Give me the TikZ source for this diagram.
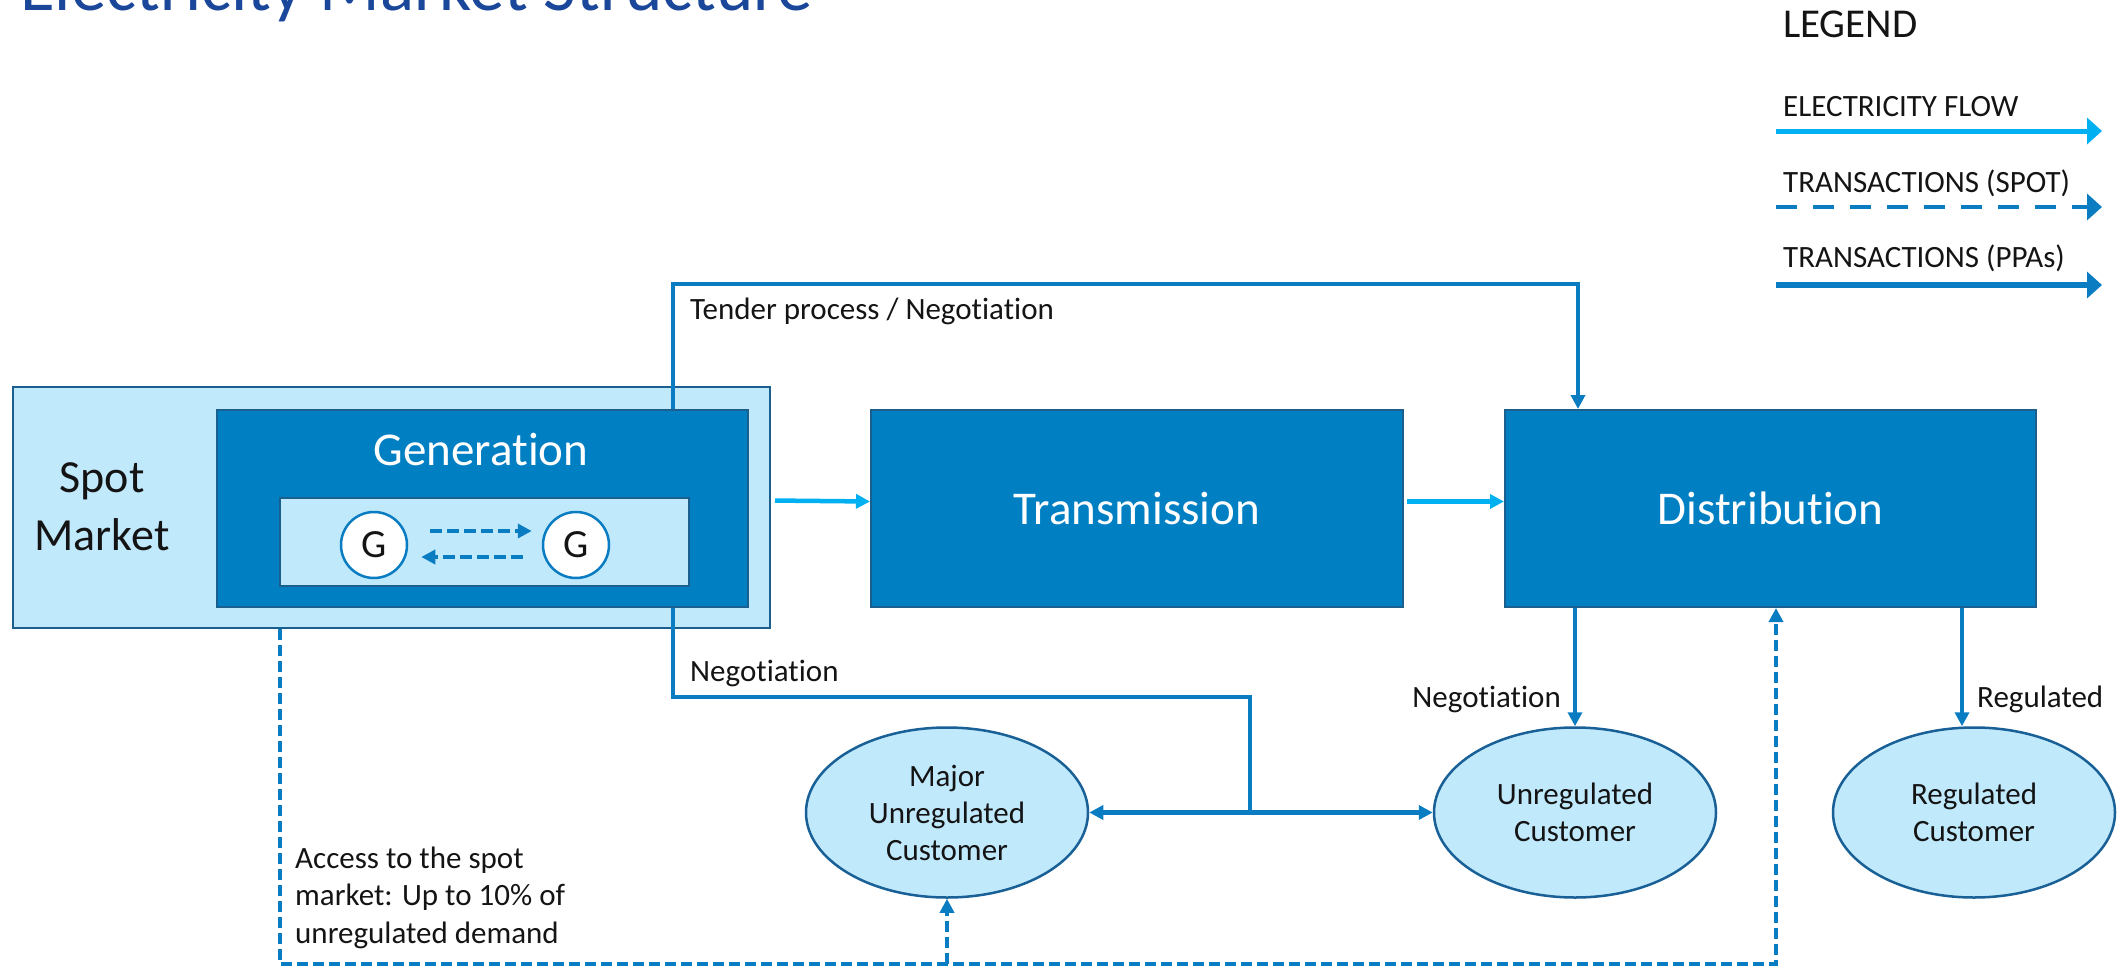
\documentclass[tikz,border=0pt]{standalone}
\usepackage{fontspec}
\setmainfont{Carlito}[RawFeature={-liga;-clig;-dlig;-calt}]
\usetikzlibrary{arrows.meta,shapes.geometric}

\definecolor{boxblue}{RGB}{0,127,195}
\definecolor{boxline}{RGB}{27,95,142}
\definecolor{lightblue}{RGB}{193,233,252}
\definecolor{ppablue}{RGB}{10,125,194}
\definecolor{elecblue}{RGB}{0,176,240}
\definecolor{custline}{RGB}{24,96,150}
\definecolor{titleblue}{RGB}{26,71,154}
\definecolor{textblack}{RGB}{20,20,20}

\tikzset{
  box/.style={rectangle,draw=boxline,fill=boxblue,line width=2pt,text=white,
    font=\fontsize{47}{56}\selectfont,inner sep=0pt},
  lightbox/.style={rectangle,draw=boxline,fill=lightblue,line width=2pt,inner sep=0pt},
  cust/.style={ellipse,draw=custline,fill=lightblue,line width=2.5pt,
    minimum width=282pt,minimum height=170pt,align=center,inner sep=0pt,
    text=textblack,font=\fontsize{31}{37}\selectfont},
  gnode/.style={circle,draw=ppablue,fill=white,line width=2.5pt,minimum size=66pt,
    inner sep=0pt,text=textblack,font=\fontsize{40}{48}\selectfont},
  lbl/.style={inner sep=0pt,text=textblack,font=\fontsize{31}{37.5}\selectfont},
  bigtxt/.style={inner sep=0pt,text=textblack,font=\fontsize{41}{58}\selectfont},
  spottxt/.style={inner sep=0pt,text=textblack,font=\fontsize{46}{58}\selectfont},
  gentxt/.style={inner sep=0pt,text=white,font=\fontsize{47}{56}\selectfont},
  title/.style={inner sep=0pt,text=titleblue,font=\fontsize{71}{84}\selectfont},
  elec/.style={draw=elecblue,line width=4.5pt},
  ppa/.style={draw=ppablue,line width=4.5pt},
  spotflow/.style={draw=ppablue,line width=4pt,dash pattern=on 11pt off 5pt},
  spotg/.style={draw=ppablue,line width=4.5pt,dash pattern=on 12pt off 5pt},
}

\begin{document}
\begin{tikzpicture}[x=1pt,y=-1pt,>={Triangle[length=14pt,width=14pt]}]
\useasboundingbox (0,0) rectangle (2118,966);
\coordinate (tenderL) at (673,284);
\coordinate (tenderR) at (1578,284);
\coordinate (negL) at (673,697);
\coordinate (negR) at (1250,697);
\coordinate (accL) at (280,964);
\coordinate (accR) at (1776,964);

% The title and legend
\node[title,anchor=base west] (title) at (20,11) {Electricity Market Structure};
\node[bigtxt,anchor=base west] (legend) at (1783,38) {LEGEND};
\node[lbl,anchor=base west] (lgelec) at (1783,117) {ELECTRICITY FLOW};
\node[lbl,anchor=base west] (lgspot) at (1783,192) {TRANSACTIONS (SPOT)};
\node[lbl,anchor=base west] (lgppa) at (1783,267) {TRANSACTIONS (PPAs)};
\coordinate (lgelecA) at (1776,131); \coordinate (lgelecB) at (2102,131);
\coordinate (lgspotA) at (1776,207); \coordinate (lgspotB) at (2102,207);
\coordinate (lgppaA) at (1776,285); \coordinate (lgppaB) at (2102,285);
\draw[elec,line width=5pt,-{Triangle[length=15pt,width=26pt]}] (lgelecA) -- (lgelecB);
\draw[ppa,line width=4.5pt,dash pattern=on 21pt off 16pt,
  -{Triangle[length=15pt,width=26pt]}] (lgspotA) -- (lgspotB);
\draw[ppa,line width=5.5pt,-{Triangle[length=15pt,width=26pt]}] (lgppaA) -- (lgppaB);

% The boxes
\node[lightbox,minimum width=757pt,minimum height=241pt] (spot) at (391.5,507.5) {};
\node[box,minimum width=531pt,minimum height=197pt] (gen) at (482.5,508.5) {};
\node[lightbox,minimum width=409pt,minimum height=88pt] (genin) at (484.5,542) {};
\node[gentxt,anchor=base] (gentext) at (481,465) {Generation};
\node[spottxt,anchor=base,align=center] (spottext) at (102,550) {Spot\\Market};
\node[box,minimum width=532pt,minimum height=197pt] (trans) at (1137,508.5) {Transmission};
\node[box,minimum width=531pt,minimum height=197pt] (dist) at (1770.5,508.5) {Distribution};
\node[gnode] (G1) at (374,545) {G};
\node[gnode] (G2) at (576,545) {G};

% The customers
\node[cust] (major) at (947,812.5) {Major\\Unregulated\\Customer};
\node[cust] (unreg) at (1575,812.5) {Unregulated\\Customer};
\node[cust] (reg) at (1974,812.5) {Regulated\\Customer};
\coordinate (regtop) at ([xshift=-12pt]reg.north);

% Electricity flow
\draw[elec,->,shorten <=4pt] ([yshift=7pt]spot.east) -- ([yshift=7pt]trans.west);
\draw[elec,->,shorten <=3pt] ([yshift=7pt]trans.east) -- ([yshift=7pt]dist.west);

% Transactions (PPAs)
\draw[ppa,->] (gen.north -| tenderL) -- (tenderL) -- (tenderR) -- (dist.north -| tenderR);
\draw[ppa] (gen.south -| negL) -- (negL) -- (negR) -- (negR |- major.east);
\draw[ppa,<->] (major.east) -- (unreg.west);
\draw[ppa,->] (dist.south -| unreg.north) -- (unreg.north);
\draw[ppa,->] (dist.south -| regtop) -- (regtop);
\node[lbl,anchor=base west] (tenderlbl) at (690,319) {Tender process / Negotiation};
\node[lbl,anchor=base west] (neglbl) at (690,681) {Negotiation};
\node[lbl,anchor=base east] (negdlbl) at (1561,707) {Negotiation};
\node[lbl,anchor=base west] (reglbl) at (1977,707) {Regulated};

% Transactions (spot)
\draw[spotg,->] ([xshift=22pt,yshift=14pt]G1.east) -- ([xshift=-10pt,yshift=14pt]G2.west);
\draw[spotg,->] ([xshift=-19pt,yshift=-12pt]G2.west) -- ([xshift=13pt,yshift=-12pt]G1.east);
\draw[spotflow,->] (spot.south -| accL) -- (accL) -- (accR) -- (dist.south -| accR);
\draw[spotflow,->] (major.south |- accL) -- (major.south);
\node[lbl,anchor=base west,align=left] (acclbl) at (295,943)
  {Access to the spot\\market: Up to 10\% of\\unregulated demand};
\end{tikzpicture}
\end{document}
